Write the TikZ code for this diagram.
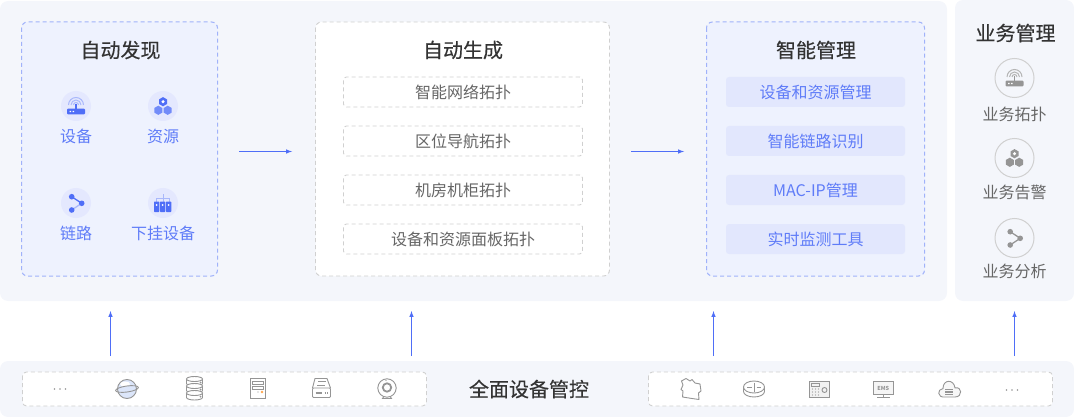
\documentclass[tikz,border=0pt]{standalone}
\usepackage{fontspec}
\setmainfont{Noto Sans CJK SC}
\newfontfamily\headfont[FakeBold=0.25]{Noto Sans CJK SC}
\usetikzlibrary{arrows}
\definecolor{panelbg}{HTML}{F4F6FB}
\definecolor{bluebg}{HTML}{EEF2FE}
\definecolor{blueedge}{HTML}{A0B2FA}
\definecolor{greyedge}{HTML}{D0D0D0}
\definecolor{rowbg}{HTML}{E2E7FD}
\definecolor{roundbg}{HTML}{E4E8FE}
\definecolor{iconblue}{HTML}{4F6EF7}
\definecolor{iconlight}{HTML}{A9B8FB}
\definecolor{bluetext}{HTML}{5F7CF8}
\definecolor{darktext}{HTML}{333333}
\definecolor{greytext}{HTML}{666666}
\definecolor{icongrey}{HTML}{959595}
\definecolor{globefill}{HTML}{DCE6FA}
\tikzset{
  panel/.style={fill=panelbg,rounded corners=8pt},
  bluebox/.style={draw=blueedge,fill=bluebg,dash pattern=on 4pt off 3pt,rounded corners=6pt,line width=1pt},
  whitebox/.style={draw=greyedge,fill=white,dash pattern=on 4pt off 3pt,rounded corners=6pt,line width=0.9pt},
  title/.style={font=\headfont\fontsize{20}{20}\selectfont,text=darktext,inner sep=0pt},
  bluelabel/.style={font=\fontsize{16}{18}\selectfont,text=bluetext,inner sep=0pt},
  greylabel/.style={font=\fontsize{16}{18}\selectfont,text=greytext,inner sep=0pt},
  genrow/.style={whitebox,rounded corners=3pt,minimum width=239pt,minimum height=30pt,inner sep=0pt,
    font=\fontsize{16}{18}\selectfont,text=greytext},
  mgmtrow/.style={fill=rowbg,rounded corners=3pt,minimum width=179pt,minimum height=30pt,inner sep=0pt,
    font=\fontsize{16}{18}\selectfont,text=bluetext},
  flow/.style={iconblue,line width=1pt,-latex},
  roundblue/.style={fill=roundbg,circle,minimum size=30pt,inner sep=0pt},
  roundgrey/.style={draw=greyedge,line width=1pt,circle,minimum size=39pt,inner sep=0pt},
  thing/.style={icongrey,line width=0.9pt},
}
% the small icons, drawn round (0,0)
\newcommand{\routericon}[2]{
  \draw [#2,line width=1pt] (-2.5,-1) arc (180:360:2.5);
  \draw [#2,line width=1pt] (-5,-1) arc (180:360:5);
  \draw [#2,line width=1pt] (-7.5,-1) arc (180:360:7.5);
  \draw [#1,line width=1.2pt] (0,-2) -- (0,3);
  \fill [#1,rounded corners=1pt] (-9,2.7) rectangle (9,8.4);
  \fill [white] (-6.5,4.8) rectangle (-5,6.2) (-3.5,4.8) rectangle (-2,6.2);
}
\newcommand{\hexone}[3]{
  \fill [#3] (#1,#2) ++(0,-4.6) -- ++(4,2.3) -- ++(0,4.6) -- ++(-4,2.3) -- ++(-4,-2.3) -- ++(0,-4.6) -- cycle;
}
\newcommand{\hexicon}[2]{
  \hexone{0}{-4.3}{#1}
  \fill [white] (0,-4.3) circle (1.7);
  \hexone{-4.7}{4.3}{#2}
  \hexone{4.7}{4.3}{#2}
}
\newcommand{\shareicon}[2]{
  \draw [#1,line width=1.3pt] (-4.3,-6.3) -- (5.7,0.3);
  \draw [#2,line width=1.3pt] (5.7,0.3) -- (-4.3,7);
  \fill [#1] (-4.3,-6.3) circle (2.8) (5.7,0.3) circle (2.8) (-4.3,7) circle (2.8);
}
\newcommand{\rackicon}[2]{
  \draw [#2,line width=0.9pt] (0,-9) -- (0,-1) (-6.5,-1) -- (-6.5,-4.5) -- (6.5,-4.5) -- (6.5,-1);
  \foreach \x in {-9,-3,3} {
    \fill [#1,rounded corners=0.6pt] (\x,-1.5) rectangle ++(5.3,10.5);
    \fill [white] (\x+2.65,2) circle (1);
  }
}
\begin{document}
\begin{tikzpicture}[x=1pt,y=-1pt]
  \useasboundingbox (0,0) rectangle (1074,417);
  % back panels
  \fill [panel] (0,1) rectangle (947,301);
  \fill [panel] (955,0) rectangle (1074,301);
  \fill [panel] (0,361) rectangle (1074,417);
  % auto discovery
  \draw [bluebox] (21.5,22) rectangle (217.5,276);
  \node [title] (discover) at (120.5,50) {自动发现};
  \foreach \name/\x/\y/\t in {dev/76/106/设备,res/163/106/资源,lnk/76/203/链路,sub/163/203/下挂设备} {
    \node [roundblue] (\name) at (\x,\y) {};
    \node [bluelabel] (\name label) at (\x,\y+30) {\t};
  }
  \begin{scope}[shift={(dev)}] \routericon{iconblue}{iconlight} \end{scope}
  \begin{scope}[shift={(res)}] \hexicon{iconblue}{iconblue!80} \end{scope}
  \begin{scope}[shift={(lnk)}] \shareicon{iconblue}{iconlight} \end{scope}
  \begin{scope}[shift={(sub)}] \rackicon{iconblue}{iconlight} \end{scope}
  % auto generation
  \draw [whitebox] (315.5,22) rectangle (609.5,276);
  \node [title] (generate) at (463,50) {自动生成};
  \foreach \i/\y/\t in {1/92/智能网络拓扑,2/141/区位导航拓扑,3/190/机房机柜拓扑,4/239/设备和资源面板拓扑}
    \node [genrow] (gen\i) at (463,\y) {\t};
  % smart management
  \draw [bluebox] (706.5,22) rectangle (924.5,276);
  \node [title] (manage) at (816,50) {智能管理};
  \foreach \i/\y/\t in {1/92/设备和资源管理,2/141/智能链路识别,3/190/MAC-IP管理,4/239/实时监测工具}
    \node [mgmtrow] (mgmt\i) at (815.5,\y) {\t};
  % business management
  \node [title] (business) at (1015.5,33) {业务管理};
  \foreach \name/\y/\ly/\t in {topo/78/114/业务拓扑,warn/158/192/业务告警,anal/238/271/业务分析} {
    \node [roundgrey] (\name) at (1014.5,\y) {};
    \node [greylabel] (\name label) at (1014.5,\ly) {\t};
  }
  \begin{scope}[shift={(topo)}] \routericon{icongrey}{icongrey!70} \end{scope}
  \begin{scope}[shift={(warn)}] \hexicon{icongrey}{icongrey} \end{scope}
  \begin{scope}[shift={(anal)}] \shareicon{icongrey}{icongrey} \end{scope}
  % arrows
  \coordinate (a1) at (239,151.5);
  \coordinate (a2) at (292,151.5);
  \coordinate (b1) at (631,151.5);
  \coordinate (b2) at (684,151.5);
  \draw [flow] (a1) -- (a2);
  \draw [flow] (b1) -- (b2);
  \foreach \i/\x in {1/110.5,2/411.5,3/713.5,4/1014.5} {
    \coordinate (up\i s) at (\x,356);
    \coordinate (up\i e) at (\x,311);
    \draw [flow] (up\i s) -- (up\i e);
  }
  % device strip
  \draw [whitebox,rounded corners=4pt] (22.5,372) rectangle (426.5,406);
  \draw [whitebox,rounded corners=4pt] (648.5,372) rectangle (1052.5,406);
  \node [title] (devices) at (529,389) {全面设备管控};
  \foreach \x in {54.5,60,65.5} \fill [icongrey] (\x,389) circle (0.8);
  \foreach \x in {1006.5,1012,1017.5} \fill [icongrey] (\x,390) circle (0.8);
  % globe
  \fill [globefill] (127,389) circle (9.5);
  \fill [white] (125,384) ellipse (5 and 2.5);
  \draw [thing] (127,389) circle (9.5);
  \draw [thing,rotate around={8:(127,389)}] (127,389) ellipse (11.5 and 3);
  % database
  \foreach \y in {382,389,396} {
    \draw [thing,fill=white] (186.5,\y-3) -- (186.5,\y+1.5) arc (180:0:8 and 2.5) -- (202.5,\y-3);
    \draw [thing,fill=white] (194.5,\y-3) ellipse (8 and 2.5);
    \fill [icongrey] (200.5,\y+0.5) circle (1);
  }
  % server
  \draw [thing] (250.5,378.5) rectangle (265.5,398.5);
  \draw [thing] (252.5,381) rectangle (263,384.5);
  \draw [thing] (252.5,386) rectangle (263,389.5);
  \fill [orange!70] (262,392) circle (1.4);
  \fill [icongrey] (258,392) circle (0.7);
  % storage box
  \draw [thing] (312.5,388) -- (315,378.5) -- (327,378.5) -- (330.5,388);
  \draw [thing,rounded corners=1pt] (312.5,388) rectangle (330.5,397.5);
  \draw [thing] (318,381.5) -- (326,381.5) (317,385) -- (325,385);
  \draw [thing,line width=1.3pt] (315.5,393) -- (322,393) (324.5,393) -- (325.5,393) (327,393) -- (328,393);
  % camera
  \draw [thing] (387,388) circle (9.2);
  \draw [thing,line width=1.8pt] (387,387.5) circle (4.2);
  \fill [icongrey] (386,380.5) circle (0.7);
  \draw [thing] (383.5,397) -- (382.5,398.5) -- (391.5,398.5) -- (390.5,397);
  % map
  \draw [thing,line join=round] (681.5,381) -- (686,378.5) -- (690,381) -- (692,379.5) -- (695,383) -- (700,384)
    -- (701,391) -- (698.5,393) -- (699,399.5) -- (692,398.5) -- (682.5,397) -- (683,391) -- (681,389.5) -- (683,385) -- cycle;
  % router
  \draw [thing] (743.5,387) -- (743.5,391.5) arc (180:0:10.5 and 5.5) -- (764.5,387);
  \draw [thing,fill=white] (754,387) ellipse (10.5 and 6);
  \draw [thing,line width=0.8pt] (747,387) -- (751.5,387) (756.5,387) -- (761,387) (754,382.5) -- (754,391.5);
  % control panel
  \draw [thing,fill=black!5] (809.5,381.5) rectangle (829,397);
  \draw [thing] (811.5,383.5) rectangle (819,386);
  \draw [thing] (824.5,390) circle (2.5);
  \foreach \a in {812.5,815.5,818.5} \foreach \b in {389,392,395} \fill [icongrey] (\a,\b) circle (0.7);
  % ems monitor
  \draw [thing,fill=black!4] (873.5,381.5) rectangle (893,394);
  \node [inner sep=0pt,text=icongrey,font=\fontsize{5.5}{6}\selectfont\bfseries] (ems) at (883.2,388) {EMS};
  \draw [thing] (883.2,394) -- (883.2,397) (877,397.5) -- (889.5,397.5);
  % cloud
  \draw [thing,fill=black!3] (945,397) .. controls (937,398) and (937,389) .. (943,388.5)
    .. controls (943,379) and (954,379) .. (955,388) .. controls (962,386) and (963,397) .. (955,397) -- cycle;
  \draw [icongrey,line width=1.4pt] (945,389.5) -- (953,389.5) (945,392) -- (953,392) (945,394.5) -- (953,394.5);
\end{tikzpicture}
\end{document}
